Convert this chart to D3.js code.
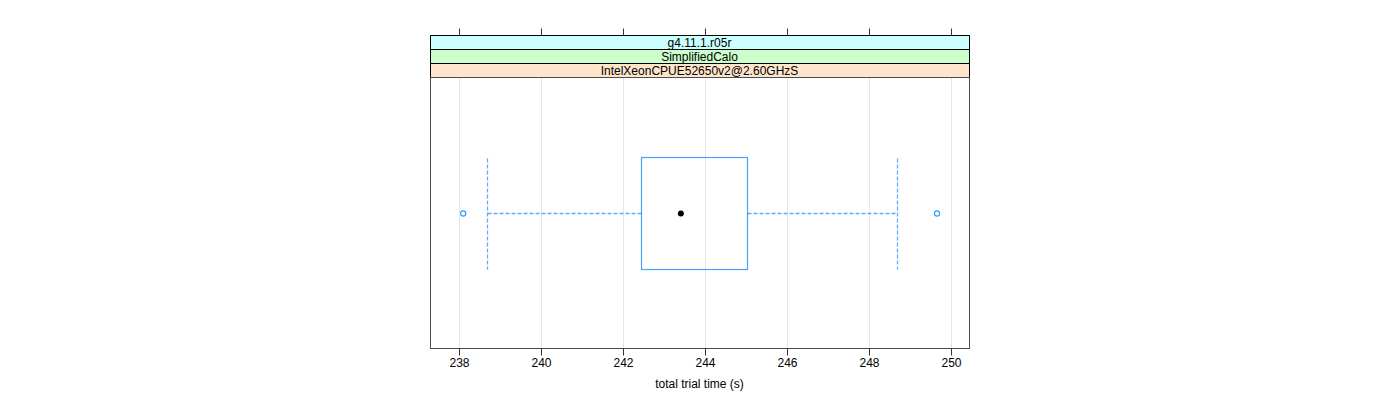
<!DOCTYPE html>
<html><head><meta charset="utf-8">
<script src="https://cdn.jsdelivr.net/npm/d3@7"></script>
<style>body{margin:0;background:#fff}svg text{font-family:"Liberation Sans",Arial,sans-serif}</style>
</head><body><svg id="c" width="1400" height="400"></svg>
<script>
const strips = ["g4.11.1.r05r", "SimplifiedCalo", "IntelXeonCPUE52650v2@2.60GHzS"];
const stripColors = ["#ccffff", "#ccffcc", "#ffe5cc"];
const ticks = [238, 240, 242, 244, 246, 248, 250];
const stats = [238.68, 242.44, 243.41, 245.02, 248.68]; // lower whisker, Q1, median, Q3, upper whisker
const outliers = [238.1, 249.66];
const xDomain = [237.29, 250.44];
const xTitle = "total trial time (s)";

const svg = d3.select("#c");
const L = 430, R = 969, stripTop = 35, stripH = 14, panelTop = stripTop + stripH * 3, panelBot = 348;
const x = d3.scaleLinear().domain(xDomain).range([L, R]);
const y = d3.scaleLinear().domain([0, 1]).range([panelBot, panelTop]);
const boxCol = "#0a84ff", whiskCol = "#5cadff", ptCol = "#0a84ff";
const px = v => Math.round(x(v)) + 0.5;

// grid
svg.append("g").selectAll("line").data(ticks).join("line")
  .attr("x1", px).attr("x2", px)
  .attr("y1", panelTop).attr("y2", panelBot).attr("stroke", "#e6e6e6");

// strips
strips.forEach((s, i) => {
  const yy = stripTop + i * stripH;
  svg.append("rect").attr("x", L + 0.5).attr("y", yy + 0.5).attr("width", R - L).attr("height", stripH)
    .attr("fill", stripColors[i]).attr("stroke", "#000");
  svg.append("text").attr("x", (L + R) / 2).attr("y", yy + stripH / 2 + 4.5).attr("text-anchor", "middle")
    .attr("font-size", 12).attr("fill", "#000").text(s);
});

// box
const yc = Math.round(y(0.5)) + 0.5, half = 56;
const g = svg.append("g");
[[stats[0], stats[1]], [stats[3], stats[4]]].forEach(([a, b]) => {
  g.append("line").attr("x1", px(a)).attr("x2", px(b)).attr("y1", yc).attr("y2", yc)
    .attr("stroke", whiskCol).attr("stroke-width", 1.3).attr("stroke-dasharray", "4,2");
});
[stats[0], stats[4]].forEach(v => {
  g.append("line").attr("x1", px(v)).attr("x2", px(v))
    .attr("y1", yc - half + 1).attr("y2", yc + half).attr("stroke", whiskCol).attr("stroke-width", 1.3)
    .attr("stroke-dasharray", "4,2");
});
g.append("rect").attr("x", px(stats[1])).attr("y", yc - half)
  .attr("width", px(stats[3]) - px(stats[1])).attr("height", half * 2)
  .attr("fill", "none").attr("stroke", boxCol).attr("stroke-width", 1.2).attr("stroke-opacity", 0.75);
g.append("circle").attr("cx", x(stats[2])).attr("cy", yc).attr("r", 3).attr("fill", "#000");
g.selectAll(".o").data(outliers).join("circle").attr("class", "o").attr("cx", d => x(d)).attr("cy", yc).attr("r", 2.6)
  .attr("fill", "none").attr("stroke", ptCol).attr("stroke-width", 1.1).attr("stroke-opacity", 0.85);

// panel border
svg.append("rect").attr("x", L + 0.5).attr("y", panelTop + 0.5).attr("width", R - L).attr("height", panelBot - panelTop)
  .attr("fill", "none").attr("stroke", "#4d4d4d");

// axes
const ax = d3.axisBottom(x).tickValues(ticks).tickSize(7).tickPadding(3);
const axB = svg.append("g").attr("transform", `translate(0,${panelBot + 0.5})`).call(ax);
axB.select(".domain").remove();
axB.selectAll(".tick").attr("transform", d => `translate(${px(d)},0)`);
axB.selectAll("line").attr("stroke", "#333");
axB.selectAll("text").attr("font-size", 12).attr("fill", "#000").attr("font-family", '"Liberation Sans",Arial,sans-serif');
const axT = svg.append("g").attr("transform", `translate(0,${stripTop + 0.5})`).call(d3.axisTop(x).tickValues(ticks).tickSize(7).tickFormat(""));
axT.select(".domain").remove();
axT.selectAll(".tick").attr("transform", d => `translate(${px(d)},0)`);
axT.selectAll("line").attr("stroke", "#333");

svg.append("text").attr("x", (L + R) / 2).attr("y", 388).attr("text-anchor", "middle")
  .attr("font-size", 12).attr("fill", "#000").text(xTitle);
</script></body></html>
